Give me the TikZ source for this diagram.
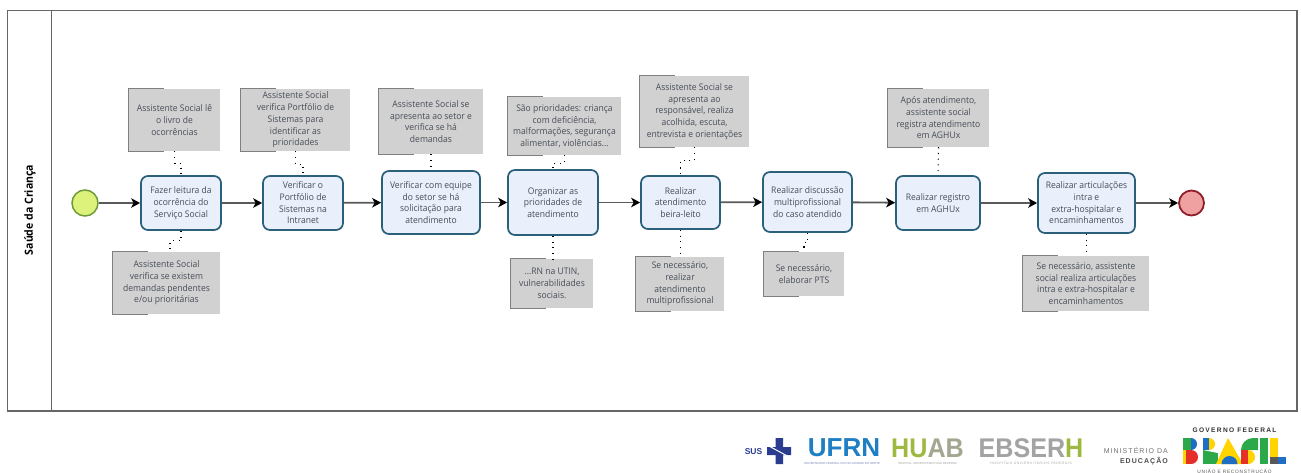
\documentclass[tikz,border=0pt]{standalone}
\usepackage{fontspec}
\setmainfont{Open Sans}[FakeStretch=0.94]
\newfontfamily\logofont{Liberation Sans}
\usetikzlibrary{arrows.meta,calc}
\definecolor{taskfill}{HTML}{E9F0FB}
\definecolor{taskline}{HTML}{2A6079}
\definecolor{notefill}{HTML}{D1D1D1}
\definecolor{noteline}{HTML}{7F7F7F}
\definecolor{txt}{HTML}{474D57}
\definecolor{flowline}{HTML}{5A5A5A}
\definecolor{frameline}{HTML}{666666}
\definecolor{startfill}{HTML}{DDF27A}
\definecolor{startline}{HTML}{6E9A3A}
\definecolor{endfill}{HTML}{EFA0A0}
\definecolor{endline}{HTML}{8E1F2A}
\definecolor{logoblue}{HTML}{2A3C8F}
\definecolor{ufrnblue}{HTML}{1F7FC4}
\definecolor{huabgreen}{HTML}{9DB93F}
\definecolor{logogray}{HTML}{A3A3A3}
\definecolor{bgreen}{HTML}{2BA84A}
\definecolor{bblue}{HTML}{1E6FC4}
\definecolor{byellow}{HTML}{FFD400}
\definecolor{bred}{HTML}{E5302A}
\tikzset{
  x=1pt,y=-1pt,
  taskbox/.style={draw=taskline,fill=taskfill,line width=1.7pt,rounded corners=7pt,align=center,
    inner sep=0pt,text=txt,font=\fontsize{9.1}{11.7}\selectfont},
  notebox/.style={fill=notefill,align=center,inner sep=0pt,text=txt,font=\fontsize{9.1}{11.7}\selectfont},
  bracketline/.style={draw=noteline,line width=0.9pt},
  flow/.style={draw=flowline,line width=1.8pt,-{Stealth[length=9pt,width=9.5pt,inset=2.5pt,black]}},
  assoc/.style={draw=black,line width=1.1pt,dash pattern=on 1.1pt off 4.6pt},
  startev/.style={circle,draw=startline,fill=startfill,line width=1.5pt,minimum size=26pt,inner sep=0pt},
  endev/.style={circle,draw=endline,fill=endfill,line width=1.8pt,minimum size=25pt,inner sep=0pt},
  frameln/.style={draw=frameline,line width=1.3pt},
  logotext/.style={inner sep=0pt,anchor=center},
  subtext/.style={inner sep=0pt,text=logogray,font=\logofont\fontsize{2.9}{4}\selectfont},
}
\newcommand{\notebr}[1]{\draw[bracketline] ([xshift=35pt]#1.north west) -- (#1.north west) -- (#1.south west) -- ([xshift=35pt]#1.south west);}
\begin{document}
\begin{tikzpicture}
\useasboundingbox (0,0) rectangle (1301,472);
\fill[white] (0,0) rectangle (1301,472);
% pool
\draw[frameln] (7.5,10.5) rectangle (1297,411);
\draw[frameln] (51.5,10.5) -- (51.5,411);
\node[rotate=90,inner sep=0pt,font=\fontsize{11.2}{12}\bfseries\selectfont,text=black] (pool) at (30,210) {Saúde da Criança};
% events
\node[startev] (start) at (85,203) {};
\node[endev] (end) at (1191.5,203) {};
% tasks
\node[taskbox,minimum width=80pt,minimum height=54pt] (t1) at (181,203) {Fazer leitura da\\ocorrência do\\Serviço Social};
\node[taskbox,minimum width=80pt,minimum height=54pt] (t2) at (303,203) {Verificar o\\Portfólio de\\Sistemas na\\Intranet};
\node[taskbox,minimum width=98pt,minimum height=63pt] (t3) at (431,202.5) {Verificar com equipe\\do setor se há\\solicitação para\\atendimento};
\node[taskbox,minimum width=90pt,minimum height=65pt] (t4) at (553,202.5) {Organizar as\\prioridades de\\atendimento};
\node[taskbox,minimum width=79pt,minimum height=53pt] (t5) at (680.5,202.5) {Realizar\\atendimento\\beira-leito};
\node[taskbox,minimum width=89pt,minimum height=60pt] (t6) at (807.5,202) {Realizar discussão\\multiprofissional\\do caso atendido};
\node[taskbox,minimum width=84pt,minimum height=54pt] (t7) at (938,203) {Realizar registro\\em AGHUx};
\node[taskbox,minimum width=97pt,minimum height=60pt] (t8) at (1086.5,203) {Realizar articulações\\intra e\\extra-hospitalar e\\encaminhamentos};
% notes
\node[notebox,minimum width=91pt,minimum height=62pt] (a1) at (174.5,120) {Assistente Social lê\\o livro de\\ocorrências};
\node[notebox,minimum width=109pt,minimum height=62pt] (a2) at (295.5,120) {Assistente Social\\verifica Portfólio de\\Sistemas para\\identificar as\\prioridades};
\node[notebox,minimum width=104pt,minimum height=65pt] (a3) at (431,121.5) {Assistente Social se\\apresenta ao setor e\\verifica se há\\demandas};
\node[notebox,minimum width=113pt,minimum height=58pt] (a4) at (564.5,126) {São prioridades: criança\\com deficiência,\\malformações, segurança\\alimentar, violências...};
\node[notebox,minimum width=109pt,minimum height=71pt] (a5) at (694.5,111.5) {Assistente Social se\\apresenta ao\\responsável, realiza\\acolhida, escuta,\\entrevista e orientações};
\node[notebox,minimum width=101pt,minimum height=58pt] (a7) at (938.5,118) {Após atendimento,\\assistente social\\registra atendimento\\em AGHUx};
\node[notebox,minimum width=107pt,minimum height=62pt] (b1) at (166.5,283) {Assistente Social\\verifica se existem\\demandas pendentes\\e/ou prioritárias};
\node[notebox,minimum width=82pt,minimum height=49pt] (b4) at (552,283.5) {...RN na UTIN,\\vulnerabilidades\\sociais.};
\node[notebox,minimum width=88pt,minimum height=54pt] (b5) at (680,284) {Se necessário,\\realizar\\atendimento\\multiprofissional};
\node[notebox,minimum width=80pt,minimum height=44pt] (b6) at (804,274) {Se necessário,\\elaborar PTS};
\node[notebox,minimum width=126pt,minimum height=55pt] (b8) at (1086,283.5) {Se necessário, assistente\\social realiza articulações\\intra e extra-hospitalar e\\encaminhamentos};
\notebr{a1}\notebr{a2}\notebr{a3}\notebr{a4}\notebr{a5}\notebr{a7}\notebr{b1}\notebr{b4}\notebr{b5}\notebr{b6}\notebr{b8}
% flows
\draw[flow] (start) -- (t1);
\draw[flow] (t1) -- (t2);
\draw[flow] (t2) -- (t3);
\draw[flow] (t3) -- (t4);
\draw[flow] (t4) -- (t5);
\draw[flow] (t5) -- (t6);
\draw[flow] (t6) -- (t7);
\draw[flow] (t7) -- (t8);
\draw[flow] (t8) -- (end);
% associations
\draw[assoc] (a1.south) -- ++(0,12) -| (t1.north);
\draw[assoc] (a2.south) -- ++(0,13) -| (t2.north);
\draw[assoc] (a3.south) -- (t3.north);
\draw[assoc] (a4.south) -- ++(0,8) -| (t4.north);
\draw[assoc] (a5.south) -- ++(0,13) -| (t5.north);
\draw[assoc] (a7.south) -- (t7.north);
\draw[assoc] (t1.south) -- ++(0,10) -| ([xshift=3.5pt]b1.north);
\draw[assoc] (t4.south) -- (t4.south |- b4.north);
\draw[assoc] (t5.south) -- (t5.south |- b5.north);
\draw[assoc] (t6.south) -- ++(0,10) -| (b6.north);
\draw[assoc] (t8.south) -- (t8.south |- b8.north);
% logos
\node[logotext,text=logoblue,font=\logofont\fontsize{8.5}{10}\bfseries\selectfont] (sus) at (753.5,452) {SUS};
\fill[logoblue] (775.5,438) rectangle (783,464) (767,447) rectangle (791,455);
\draw[white,line width=1pt] (767,445) -- (791,458);
\node[logotext,text=ufrnblue,font=\logofont\fontsize{26}{28}\bfseries\selectfont] (ufrn) at (844,448) {UFRN};
\node[subtext,text=logoblue!60!white] (ufrnsub) at (842,463.5) {UNIVERSIDADE FEDERAL DO RIO GRANDE DO NORTE};
\node[logotext,text=huabgreen,xscale=.93,font=\logofont\fontsize{27}{29}\bfseries\selectfont] (huab) at (927.5,448) {HU\textcolor{logogray!80!huabgreen}{AB}};
\node[subtext] (huabsub) at (927.5,463.5) {HOSPITAL UNIVERSITÁRIO ANA BEZERRA};
\node[logotext,text=logogray,xscale=.93,font=\logofont\fontsize{27}{29}\bfseries\selectfont] (ebserh) at (1031,448.5) {EBSER\textcolor{huabgreen}{H}};
\node[subtext,font=\logofont\fontsize{3.3}{4}\addfontfeature{LetterSpace=18}\selectfont] (ebsub) at (1031,463.5) {HOSPITAIS UNIVERSITÁRIOS FEDERAIS};
\node[logotext,anchor=east,text=logogray!70!black,font=\logofont\fontsize{7}{9}\selectfont\addfontfeature{LetterSpace=15}] (min) at (1168,450) {MINISTÉRIO DA};
\node[logotext,anchor=east,text=black!70,font=\logofont\fontsize{7}{9}\bfseries\selectfont\addfontfeature{LetterSpace=15}] (edu) at (1168,461) {EDUCAÇÃO};
\node[logotext,text=black!80,font=\logofont\fontsize{6.6}{8}\bfseries\selectfont\addfontfeature{LetterSpace=20}] (gov) at (1234.5,430) {GOVERNO FEDERAL};
% BRASIL mark
% B
\fill[bgreen] (1183,438) rectangle (1191,450);
\fill[bblue] (1191,438) arc[start angle=-90,end angle=90,radius=6] -- cycle;
\fill[byellow] (1183,450) rectangle (1191,464);
\fill[bred] (1191,450) arc[start angle=-90,end angle=90,radius=7] -- cycle;
\fill[bred] (1186,450) rectangle (1191,464);
% R
\fill[bblue] (1203,438) rectangle (1209,450);
\fill[byellow] (1209,438) arc[start angle=-90,end angle=90,radius=6] -- cycle;
\fill[bgreen] (1203,450) -- (1218,450) -- (1218,464) -- (1203,464) -- cycle;
\fill[white] (1203,450) -- (1218,450) -- (1218,453) -- cycle;
% A
\fill[byellow] (1216,464) -- (1228,438) -- (1243,464) -- cycle;
\fill[bblue] (1221.5,464) arc[start angle=180,end angle=360,radius=8] -- cycle;
% S
\fill[bgreen] (1241,450) arc[start angle=180,end angle=270,radius=12] -- (1258,438) -- (1258,450) -- cycle;
\fill[bred] (1241,450) rectangle (1248,464);
\fill[byellow] (1248,450) arc[start angle=-90,end angle=90,radius=7] -- cycle;
% I
\fill[bgreen] (1260,438) rectangle (1268,464);
% L
\fill[byellow] (1270,438) rectangle (1278,457);
\fill[black!65] (1270,457) rectangle (1278,464);
\fill[bblue] (1278,457) rectangle (1286,464);
\node[logotext,text=black!65,font=\logofont\fontsize{4.8}{6}\selectfont\addfontfeature{LetterSpace=15},anchor=center] (uni) at (1234.5,471.5) {UNIÃO E RECONSTRUÇÃO};
\end{tikzpicture}
\end{document}
